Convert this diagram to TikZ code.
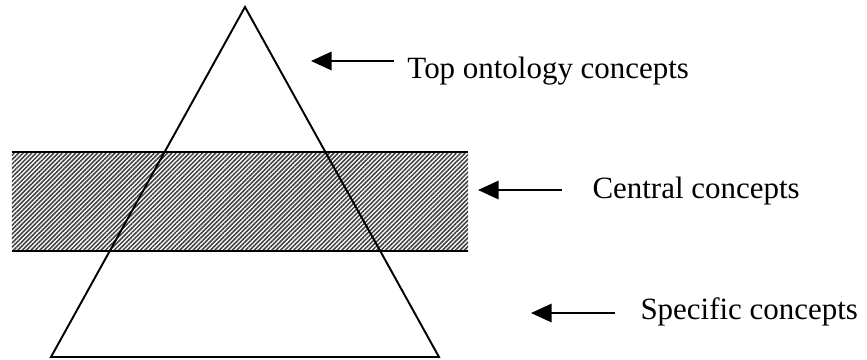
\documentclass[tikz,border=0pt]{standalone}
\usepackage{fontspec}
\setmainfont{Liberation Serif}
\usetikzlibrary{arrows.meta,patterns.meta}
\tikzset{
    edge/.style={line width=0.75pt},
    pointer/.style={line width=0.75pt, -{Triangle[length=0.28cm,width=0.25cm]}},
    caption/.style={anchor=base west, inner sep=0pt, font=\fontsize{12pt}{14pt}\selectfont}
}
\begin{document}
\begin{tikzpicture}
        \useasboundingbox (0,0) rectangle (11.813,4.905);
        \coordinate (A) at (3.338,4.810);
        \coordinate (B) at (0.695,0.041);
        \coordinate (C) at (5.981,0.041);
        \coordinate (P1) at (0.163,2.834);
        \coordinate (P2) at (6.377,2.834);
        \coordinate (Q1) at (0.163,1.485);
        \coordinate (Q2) at (6.377,1.485);

        % band of central concepts
        \fill[pattern={Lines[angle=45,distance=1.2pt,line width=0.6pt]}, pattern color=black!75]
            (Q1) rectangle (P2);
        \draw[edge] (P1) -- (P2);
        \draw[edge] (Q1) -- (Q2);

        % the pyramid
        \draw[edge, line join=miter] (A) -- (B) -- (C) -- cycle;

        % labels
        \node[caption] (top) at (5.545,3.842) {Top ontology concepts};
        \node[caption] (central) at (8.066,2.207) {Central concepts};
        \node[caption] (specific) at (8.72,0.545) {Specific concepts};

        \coordinate (t1) at (5.368,4.074);
        \coordinate (h1) at (4.237,4.074);
        \coordinate (t2) at (7.657,2.316);
        \coordinate (h2) at (6.513,2.316);
        \coordinate (t3) at (8.379,0.640);
        \coordinate (h3) at (7.235,0.640);
        \draw[pointer] (t1) -- (h1);
        \draw[pointer] (t2) -- (h2);
        \draw[pointer] (t3) -- (h3);
\end{tikzpicture}
\end{document}
